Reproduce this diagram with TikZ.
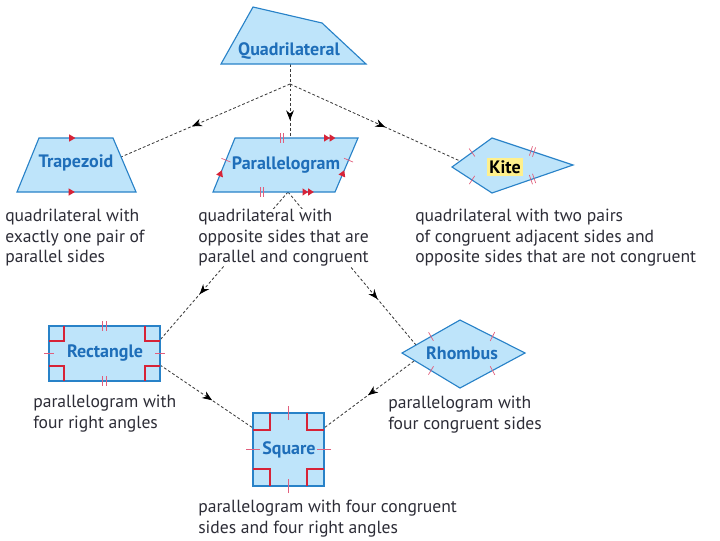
\documentclass[tikz,border=0pt]{standalone}
\usepackage{fontspec}
\setmainfont{PT Sans}
\usetikzlibrary{arrows.meta, decorations.markings}
\definecolor{shapeblue}{RGB}{40,130,200}
\definecolor{shapefill}{RGB}{190,228,250}
\definecolor{labelblue}{RGB}{30,110,185}
\definecolor{markred}{RGB}{215,35,55}
\definecolor{tickpink}{RGB}{225,95,125}
\definecolor{textdark}{RGB}{45,45,55}
\definecolor{linegray}{RGB}{60,60,60}
\definecolor{kiteyellow}{RGB}{255,240,140}
\tikzset{
  shapebox/.style={draw=shapeblue, fill=shapefill, line width=0.8pt},
  shapelabel/.style={font=\fontsize{12.8}{14}\selectfont\bfseries, text=labelblue, inner sep=1pt},
  desc/.style={anchor=north west, align=left, font=\fontsize{12.5}{14.5}\selectfont,
    text=textdark, fill=white, inner sep=0pt},
  conn/.style={draw=linegray, line width=0.6pt, dash pattern=on 2pt off 1.5pt},
  midarrow/.style={postaction={decorate, decoration={markings,
    mark=at position #1 with {\arrow{Stealth[length=7pt, width=5.5pt, black]}}}}},
  onetick/.style={postaction={decorate, decoration={markings,
    mark=at position #1 with {\draw[tickpink, line width=0.5pt] (0pt,-3.5pt) -- (0pt,3.5pt);}}}},
  twotick/.style={postaction={decorate, decoration={markings,
    mark=at position #1 with {\draw[tickpink, line width=0.5pt] (-1.2pt,-3.5pt) -- (-1.2pt,3.5pt) (1.2pt,-3.5pt) -- (1.2pt,3.5pt);}}}},
  longtick/.style={postaction={decorate, decoration={markings,
    mark=at position #1 with {\draw[tickpink, line width=0.5pt] (0pt,-5pt) -- (0pt,5pt);}}}},
  onearrow/.style={postaction={decorate, decoration={markings,
    mark=at position #1 with {\fill[markred] (-2.2pt,-2.6pt) -- (2.2pt,0pt) -- (-2.2pt,2.6pt) -- cycle;}}}},
  twoarrow/.style={postaction={decorate, decoration={markings,
    mark=at position #1 with {\fill[markred] (-4pt,-2.6pt) -- (0pt,0pt) -- (-4pt,2.6pt) -- cycle
      (0pt,-2.6pt) -- (4pt,0pt) -- (0pt,2.6pt) -- cycle;}}}},
  rtmark/.style={draw=markred, line width=0.8pt}
}
\begin{document}
\begin{tikzpicture}[x=0.025cm, y=-0.025cm]
  \useasboundingbox (0,0) rectangle (720,540);

  % corners of the shapes
  \coordinate (q1) at (221,64);  \coordinate (q2) at (253,7);
  \coordinate (q3) at (322,23);  \coordinate (q4) at (366,64);
  \coordinate (t1) at (17,192);  \coordinate (t2) at (39,138);
  \coordinate (t3) at (113,138); \coordinate (t4) at (136,192);
  \coordinate (p1) at (213,192); \coordinate (p2) at (235,138);
  \coordinate (p3) at (358,138); \coordinate (p4) at (335,192);
  \coordinate (k1) at (452,167); \coordinate (k2) at (492,138);
  \coordinate (k3) at (573,165); \coordinate (k4) at (492,193);
  \coordinate (r1) at (49,381);  \coordinate (r2) at (49,326);
  \coordinate (r3) at (160,326); \coordinate (r4) at (160,381);
  \coordinate (h1) at (402,353); \coordinate (h2) at (460,320);
  \coordinate (h3) at (525,353); \coordinate (h4) at (460,388);
  \coordinate (s1) at (253,486); \coordinate (s2) at (253,413);
  \coordinate (s3) at (324,413); \coordinate (s4) at (324,486);

  % connector ends
  \coordinate (qb) at (290,64);
  \coordinate (fork) at (290,84);
  \coordinate (pt) at (290,138);
  \coordinate (tzr) at (121,157);
  \coordinate (kl) at (460,161);
  \coordinate (pb) at (288,192);
  \coordinate (rectA) at (160,340);
  \coordinate (rectB) at (160,365);
  \coordinate (rhA) at (416,345);
  \coordinate (rhB) at (414,361);
  \coordinate (sqL) at (253,428);
  \coordinate (sqR) at (324,428);

  \draw[conn, midarrow=0.76] (qb) -- (pt);
  \draw[conn, midarrow=0.58] (fork) -- (tzr);
  \draw[conn, midarrow=0.56] (fork) -- (kl);
  \draw[conn, midarrow=0.69] (pb) -- (rectA);
  \draw[conn, midarrow=0.70] (pb) -- (rhA);
  \draw[conn, midarrow=0.56] (rectB) -- (sqL);
  \draw[conn, midarrow=0.51] (rhB) -- (sqR);

  % shapes
  \draw[shapebox] (q1) -- (q2) -- (q3) -- (q4) -- cycle;
  \draw[shapebox] (t1) -- (t2) -- (t3) -- (t4) -- cycle;
  \draw[shapebox] (p1) -- (p2) -- (p3) -- (p4) -- cycle;
  \draw[shapebox] (k1) -- (k2) -- (k3) -- (k4) -- cycle;
  \draw[shapebox] (r1) -- (r2) -- (r3) -- (r4) -- cycle;
  \draw[shapebox] (h1) -- (h2) -- (h3) -- (h4) -- cycle;
  \draw[shapebox] (s1) -- (s2) -- (s3) -- (s4) -- cycle;

  % marks on the sides
  \path[onearrow=0.45] (t2) -- (t3);
  \path[onearrow=0.46] (t1) -- (t4);
  \path[twotick=0.38, twoarrow=0.77] (p2) -- (p3);
  \path[twotick=0.40, twoarrow=0.78] (p1) -- (p4);
  \path[onetick=0.59, onearrow=0.35] (p1) -- (p2);
  \path[onetick=0.59, onearrow=0.35] (p4) -- (p3);
  \path[onetick=0.5] (k1) -- (k2);
  \path[onetick=0.5] (k1) -- (k4);
  \path[twotick=0.5] (k2) -- (k3);
  \path[twotick=0.5] (k4) -- (k3);
  \path[twotick=0.5] (r2) -- (r3);
  \path[twotick=0.5] (r1) -- (r4);
  \path[onetick=0.5] (r1) -- (r2);
  \path[onetick=0.5] (r4) -- (r3);
  \path[onetick=0.5] (h1) -- (h2);
  \path[onetick=0.5] (h2) -- (h3);
  \path[onetick=0.5] (h1) -- (h4);
  \path[onetick=0.5] (h4) -- (h3);
  \path[longtick=0.5] (s1) -- (s2);
  \path[longtick=0.5] (s2) -- (s3);
  \path[longtick=0.5] (s4) -- (s3);
  \path[longtick=0.5] (s1) -- (s4);

  % right angles
  \foreach \cx/\cy/\sx/\sy in {49/326/1/1, 160/326/-1/1, 49/381/1/-1, 160/381/-1/-1}
    \draw[rtmark] (\cx+\sx*15,\cy) -- ++(0,\sy*15) -- ++(-\sx*15,0);
  \foreach \cx/\cy/\sx/\sy in {253/413/1/1, 324/413/-1/1, 253/486/1/-1, 324/486/-1/-1}
    \draw[rtmark] (\cx+\sx*17,\cy) -- ++(0,\sy*17) -- ++(-\sx*17,0);

  % labels
  \node[shapelabel] (lQuad) at (289,51) {Quadrilateral};
  \node[shapelabel] (lTrap) at (76,163) {Trapezoid};
  \node[shapelabel] (lPar) at (286,165) {Parallelogram};
  \node[shapelabel, fill=kiteyellow, text=black, inner sep=2pt] (lKite) at (505,167) {Kite};
  \node[shapelabel] (lRect) at (105,353) {Rectangle};
  \node[shapelabel] (lRhom) at (462,353) {Rhombus};
  \node[shapelabel] (lSq) at (289,450) {Square};

  % descriptions
  \node[desc] (dTrap) at (5,209) {quadrilateral with\\exactly one pair of\\parallel sides};
  \node[desc] (dPar) at (198,209) {quadrilateral with\\opposite sides that are\\parallel and congruent};
  \node[desc] (dKite) at (415,209) {quadrilateral with two pairs\\of congruent adjacent sides and\\opposite sides that are not congruent};
  \node[desc] (dRect) at (33,395) {parallelogram with\\four right angles};
  \node[desc] (dRhom) at (388,396) {parallelogram with\\four congruent sides};
  \node[desc] (dSq) at (198,500) {parallelogram with four congruent\\sides and four right angles};
\end{tikzpicture}
\end{document}
